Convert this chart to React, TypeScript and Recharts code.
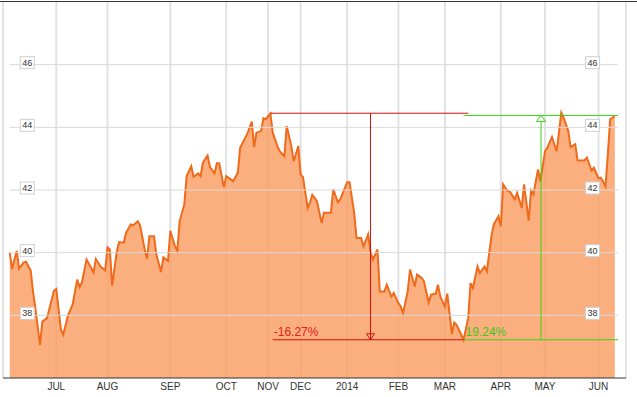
import { Area, CartesianGrid, ComposedChart, ReferenceDot, ReferenceLine, XAxis, YAxis } from "recharts";

// trading-day index and closing price
const days = [
  0, 1, 3, 4, 6, 7, 9, 10, 11, 13, 14, 16, 19, 20, 22, 23, 25, 27, 29, 30, 31, 33, 35, 36, 37, 39, 41, 42, 43, 44,
  46, 47, 49, 50, 52, 53, 55, 56, 58, 59, 60, 62, 63, 65, 66, 68, 69, 71, 72, 73, 75, 76, 78, 79, 81, 82, 83, 85,
  86, 88, 89, 90, 92, 93, 95, 96, 98, 99, 101, 102, 104, 105, 106, 108, 109, 110, 112, 113, 115, 116, 118, 119,
  121, 122, 124, 125, 126, 128, 129, 130, 132, 134, 135, 137, 138, 139, 141, 142, 144, 145, 146, 148, 149, 151,
  152, 154, 155, 156, 158, 159, 161, 162, 164, 165, 167, 168, 169, 171, 172, 174, 175, 177, 178, 180, 181, 183,
  184, 185, 187, 188, 190, 191, 192, 194, 195, 197, 198, 199, 201, 202, 204, 205, 207, 208, 210, 211, 212, 214,
  215, 217, 218, 220, 221, 223, 224, 225, 227, 228, 230, 231, 233, 234, 235, 237, 238, 240, 241, 243, 244, 246,
  247, 248, 250, 251, 253, 254, 256, 257, 258, 260,
];
const prices = [
  40.0, 39.48, 40.06, 39.49, 39.69, 39.71, 39.43, 38.76, 38.23, 37.06, 37.8, 37.91, 38.79, 38.84, 37.54, 37.38,
  37.99, 38.34, 39.14, 38.9, 39.05, 39.78, 39.51, 39.37, 39.8, 39.56, 39.43, 40.17, 40.1, 38.95,
  40.04, 40.34, 40.32, 40.64, 40.9, 40.87, 41.0, 40.87, 40.1, 39.81, 40.52, 40.52, 39.94, 39.38, 39.85, 39.74,
  40.7, 40.2, 40.06, 41.0, 41.54, 42.44, 42.76, 42.42, 42.53, 42.44, 42.87, 43.1,
  42.74, 42.53, 42.85, 42.85, 42.09, 42.44, 42.34, 42.28, 42.55, 43.35, 43.64, 43.78, 44.18, 43.37, 43.83, 43.88,
  44.29, 44.26, 44.44, 43.83, 43.4, 43.24, 43.08, 44.04,
  43.4, 42.92, 43.4, 42.5, 42.41, 41.43, 41.6, 41.85, 41.64, 40.95, 41.27, 41.27, 41.27, 42.02, 41.61, 41.7,
  42.07, 42.25, 42.25, 41.27, 40.47, 40.47,
  40.2, 40.58, 40.04, 39.78, 40.1, 38.76, 38.76, 38.98, 38.6, 38.71, 38.39, 38.28, 38.07, 38.76, 39.46, 38.92,
  39.3, 39.19, 39.08, 38.41, 38.66, 38.69,
  38.98, 38.6, 38.28, 38.69, 37.4, 37.77, 37.7, 37.38, 37.22, 37.91, 39.03, 38.87, 39.56, 39.35, 39.56, 39.4,
  40.54, 40.9, 41.16, 40.84, 42.18, 41.96,
  41.94, 41.7, 41.91, 41.43, 42.18, 41.02, 41.98, 41.86, 42.66, 42.28, 43.24, 43.35, 43.69, 43.46, 43.24, 44.47,
  44.31, 43.88, 43.37, 43.46, 42.94, 42.94,
  42.95, 43.03, 42.62, 42.71, 42.37, 42.39, 42.12, 43.14, 44.26, 44.36,
];

const monthTicks = [20, 42, 69, 93, 111, 125, 145, 167, 187, 211, 230, 253];
const monthLabels = ["JUL", "AUG", "SEP", "OCT", "NOV", "DEC", "2014", "FEB", "MAR", "APR", "MAY", "JUN"];
const priceTicks = [38, 40, 42, 44, 46];

// drawdown (red) and recovery (green) markers
const peakDay = 112;
const peakPrice = 44.45;
const lowDay = 195;
const lowPrice = 37.22;
const recoverPrice = 44.38;
const drawdownText = "-16.27%";
const recoveryText = "19.24%";

const data = days.map((d, i) => ({ day: d, price: prices[i] }));

const RED = "#d01010";
const GREEN = "#3ad414";
const FONT = '"Liberation Sans", Arial, sans-serif';

function PriceBoxes({ viewBox, value }: any) {
  const { x, y, width } = viewBox;
  return (
    <g>
      {[x + 17.5, x + width - 25.5].map((cx) => (
        <g key={cx}>
          <rect x={cx - 7} y={y - 8} width={14} height={12} fill="#fff" stroke="#cfcfcf" />
          <text x={cx} y={y + 1} textAnchor="middle" fontSize={9} fill="#333" fontFamily={FONT}>
            {value}
          </text>
        </g>
      ))}
    </g>
  );
}

function PctLabel({ viewBox, value, fill, dx }: any) {
  return (
    <text x={viewBox.x + dx} y={viewBox.y - 4} fontSize={12} fill={fill} fontFamily={FONT}>
      {value}
    </text>
  );
}

const downArrow = (p: any) => (
  <polygon points={`${p.cx - 4},${p.cy - 6} ${p.cx + 4},${p.cy - 6} ${p.cx},${p.cy}`} fill="none" stroke={RED} />
);
const upArrow = (p: any) => (
  <polygon points={`${p.cx - 4.5},${p.cy + 6} ${p.cx + 4.5},${p.cy + 6} ${p.cx},${p.cy}`} fill="#fff" stroke={GREEN} />
);

export default function App() {
  return (
    <div style={{ position: "relative", width: 637, height: 397, fontFamily: FONT }}>
      <style>{"body{margin:0}"}</style>
      <div style={{ position: "absolute", top: 1, left: 0, width: 637, height: 1, background: "#333" }} />
      <ComposedChart width={637} height={397} data={data} margin={{ top: 2, right: 11, bottom: 0, left: 3 }}>
        <CartesianGrid horizontal={false} stroke="#e2e2e2" strokeWidth={2} />
        <XAxis
          type="number"
          dataKey="day"
          domain={[-2.9, 264.8]}
          allowDataOverflow
          ticks={monthTicks}
          interval={0}
          tickFormatter={(v) => monthLabels[monthTicks.indexOf(v)]}
          height={19}
          tickSize={0}
          tickMargin={5}
          axisLine={{ stroke: "#333" }}
          tickLine={false}
          tick={{ fontSize: 10, fill: "#333", fontFamily: FONT }}
        />
        <YAxis hide type="number" domain={[36, 48]} allowDataOverflow />
        {priceTicks.map((t) => (
          <ReferenceLine
            key={"g" + t}
            segment={[
              { x: 0, y: t },
              { x: 261.4, y: t },
            ]}
            stroke="#d9d9d9"
          />
        ))}
        <Area
          type="linear"
          dataKey="price"
          stroke="#f06a1c"
          strokeWidth={2}
          fill="#fa9a5e"
          fillOpacity={0.8}
          dot={false}
          activeDot={false}
          isAnimationActive={false}
        />
        {priceTicks.map((t) => (
          <ReferenceLine
            key={"l" + t}
            segment={[
              { x: 0, y: t },
              { x: 261.4, y: t },
            ]}
            stroke="none"
            label={<PriceBoxes value={t} />}
          />
        ))}
        <ReferenceLine
          segment={[
            { x: peakDay, y: peakPrice },
            { x: 197, y: peakPrice },
          ]}
          stroke={RED}
        />
        <ReferenceLine
          segment={[
            { x: 155, y: peakPrice },
            { x: 155, y: lowPrice },
          ]}
          stroke={RED}
        />
        <ReferenceLine
          segment={[
            { x: 113, y: lowPrice },
            { x: lowDay, y: lowPrice },
          ]}
          stroke={RED}
          label={<PctLabel value={drawdownText} fill="#e02020" dx={1} />}
        />
        <ReferenceDot x={155} y={lowPrice} r={0} shape={downArrow} />
        <ReferenceLine
          segment={[
            { x: lowDay, y: recoverPrice },
            { x: 261.4, y: recoverPrice },
          ]}
          stroke={GREEN}
        />
        <ReferenceLine
          segment={[
            { x: 228.3, y: recoverPrice },
            { x: 228.3, y: lowPrice },
          ]}
          stroke={GREEN}
        />
        <ReferenceLine
          segment={[
            { x: lowDay, y: lowPrice },
            { x: 261.4, y: lowPrice },
          ]}
          stroke={GREEN}
          label={<PctLabel value={recoveryText} fill="#3cc81a" dx={2} />}
        />
        <ReferenceDot x={228.3} y={recoverPrice} r={0} shape={upArrow} />
      </ComposedChart>
    </div>
  );
}
